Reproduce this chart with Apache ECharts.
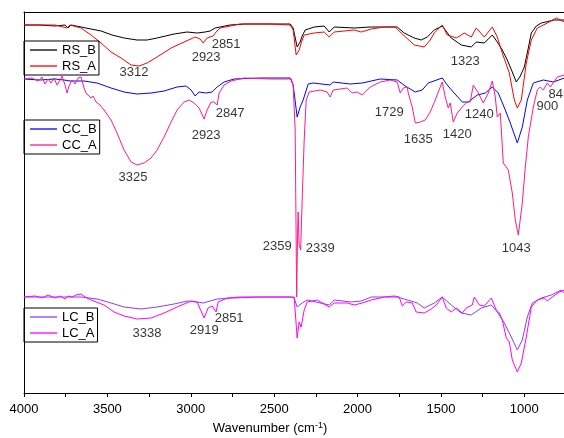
<!DOCTYPE html>
<html>
<head>
<meta charset="utf-8">
<script src="https://cdn.jsdelivr.net/npm/echarts@6/dist/echarts.min.js"></script>
<style>
    html, body { margin: 0; padding: 0; background: #fff; }
    #chart { width: 564px; height: 438px; }
</style>
</head>
<body>
<div id="chart"></div>
<script>
// FTIR spectra, [wavenumber cm-1, offset transmittance (a.u.)]
const rsB = [[4000,368],[3904,368],[3814,367],[3754,368],[3736,365],[3718,368],[3658,366],[3598,364],[3538,362],[3472,358],[3400,355],[3322,353],[3262,353],[3202,355],[3100,359],[3022,361],[2962,360],[2914,361],[2884,362],[2854,365],[2824,366],[2764,368],[2674,369],[2524,369],[2404,369],[2386,365],[2362,346],[2344,351],[2332,357],[2314,363],[2260,366],[2200,367],[2170,361],[2140,366],[2020,365],[1924,366],[1840,366],[1762,366],[1720,360],[1660,355],[1618,353],[1582,356],[1540,363],[1492,367],[1438,355],[1378,348],[1318,346],[1288,351],[1240,350],[1192,358],[1162,351],[1132,343],[1102,333],[1072,321],[1048,311],[1024,317],[1000,326],[976,345],[958,360],[928,367],[898,370],[820,373],[760,373]];
const rsA = [[4000,368],[3904,368],[3814,368],[3742,365],[3724,368],[3658,365],[3598,358],[3538,350],[3478,341],[3418,335],[3358,328],[3310,327],[3262,330],[3202,336],[3118,345],[3040,351],[2974,356],[2944,354],[2926,350],[2902,355],[2866,357],[2848,361],[2824,365],[2764,367],[2704,369],[2524,369],[2404,368],[2386,363],[2368,338],[2350,343],[2338,350],[2320,358],[2260,360],[2200,361],[2170,356],[2140,361],[2020,363],[1978,361],[1918,364],[1840,366],[1774,366],[1738,360],[1660,348],[1600,346],[1564,353],[1540,360],[1492,368],[1462,358],[1408,355],[1360,360],[1318,356],[1288,365],[1240,356],[1192,366],[1162,356],[1132,340],[1090,320],[1060,293],[1042,285],[1018,293],[988,330],[958,353],[922,365],[862,370],[808,375],[760,371]];
const ccB = [[4000,314],[3904,313],[3814,314],[3760,313],[3724,312],[3640,312],[3562,310],[3478,305],[3400,301],[3322,299],[3238,300],[3160,302],[3082,306],[3028,307],[2998,303],[2974,297],[2950,301],[2908,300],[2872,301],[2842,306],[2800,311],[2740,314],[2584,315],[2404,315],[2386,308],[2362,276],[2344,286],[2326,293],[2296,309],[2266,310],[2164,308],[2146,311],[2044,309],[1972,310],[1864,314],[1762,313],[1714,307],[1654,301],[1612,303],[1576,310],[1492,315],[1462,308],[1426,301],[1372,291],[1336,291],[1282,298],[1234,300],[1192,306],[1156,300],[1114,283],[1084,270],[1042,250],[1012,266],[982,293],[946,310],[886,313],[826,311],[760,315]];
const ccA = [[4000,314],[3952,315],[3916,312],[3892,316],[3874,309],[3856,314],[3838,310],[3820,315],[3802,308],[3784,313],[3772,317],[3754,308],[3742,300],[3730,307],[3712,313],[3694,309],[3676,315],[3658,316],[3640,305],[3628,300],[3598,295],[3586,297],[3568,291],[3544,288],[3520,283],[3478,273],[3442,260],[3400,243],[3358,231],[3322,228],[3280,230],[3238,235],[3202,243],[3160,256],[3118,271],[3082,283],[3040,291],[3010,293],[2980,290],[2950,285],[2920,274],[2902,283],[2878,291],[2860,291],[2842,288],[2830,300],[2800,308],[2758,312],[2680,315],[2524,314],[2398,314],[2386,308],[2374,263],[2365,96],[2359,163],[2356,181],[2350,148],[2341,143],[2332,193],[2320,253],[2308,293],[2290,301],[2224,303],[2182,301],[2164,296],[2146,303],[2062,305],[2032,300],[2002,301],[1972,298],[1924,306],[1864,311],[1804,313],[1762,311],[1744,300],[1726,305],[1702,306],[1696,300],[1672,286],[1654,270],[1624,271],[1594,273],[1564,281],[1534,293],[1516,301],[1492,311],[1474,296],[1456,285],[1444,290],[1426,271],[1402,280],[1372,286],[1342,291],[1324,291],[1306,308],[1276,300],[1246,290],[1216,300],[1192,312],[1174,296],[1162,276],[1144,280],[1126,230],[1096,223],[1072,200],[1054,173],[1036,158],[1012,190],[994,226],[976,256],[946,286],[922,303],[904,306],[886,303],[862,310],[844,306],[802,316],[760,318]];
const lcB = [[4000,96],[3844,96],[3658,96],[3562,94],[3478,90],[3400,86],[3298,84],[3202,86],[3100,89],[3022,92],[2962,91],[2926,90],[2884,92],[2842,94],[2746,95],[2584,96],[2404,96],[2380,95],[2362,86],[2332,90],[2302,93],[2170,88],[2140,93],[2038,91],[1978,92],[1918,96],[1840,96],[1762,96],[1720,94],[1642,90],[1600,85],[1540,90],[1492,96],[1438,88],[1378,80],[1318,78],[1258,85],[1198,88],[1162,81],[1120,70],[1078,56],[1042,43],[1012,53],[982,76],[952,90],[898,95],[838,98],[778,103],[760,100]];
const lcA = [[4000,96],[3934,97],[3892,95],[3856,98],[3814,95],[3784,97],[3754,94],[3736,97],[3712,96],[3688,98],[3658,99],[3634,96],[3598,93],[3520,88],[3460,81],[3400,77],[3322,74],[3238,75],[3160,80],[3082,86],[2998,92],[2962,91],[2920,75],[2896,85],[2872,87],[2848,81],[2836,91],[2782,95],[2704,96],[2404,96],[2380,96],[2362,55],[2350,71],[2338,66],[2320,83],[2302,91],[2242,93],[2170,86],[2140,90],[2062,90],[2020,88],[1972,90],[1918,93],[1840,96],[1780,97],[1750,96],[1732,87],[1708,91],[1672,90],[1648,81],[1600,80],[1558,84],[1528,88],[1492,96],[1468,85],[1438,81],[1408,85],[1372,80],[1348,85],[1312,88],[1300,96],[1270,88],[1240,87],[1198,95],[1192,96],[1168,83],[1150,80],[1132,73],[1108,55],[1090,51],[1072,33],[1042,21],[1018,30],[988,56],[958,86],[922,93],[880,95],[862,92],[832,96],[790,101],[760,103]];

// peak annotations: [wavenumber, y, text]
const peakLabels = [
    [3340,321,'3312'],[2908,336,'2923'],[2788,349,'2851'],[1354,332,'1323'],
    [2764,280,'2847'],[2908,258,'2923'],[3346,216,'3325'],
    [1810,281,'1729'],[1636,254,'1635'],[1402,259,'1420'],[1270,279,'1240'],
    [862,287,'900'],[790,299,'845'],
    [2482,147,'2359'],[2224,145,'2339'],[1048,145,'1043'],
    [3262,60,'3338'],[2919,63,'2919'],[2770,75,'2851']
];

const xTicks = [4000, 3500, 3000, 2500, 2000, 1500, 1000];

const FONT = 'Liberation Sans, Arial, sans-serif';

let myChart = echarts.init(document.getElementById('chart'));

const mkLine = (name, data, color) => ({
    name: name,
    type: 'line',
    data: data,
    symbol: 'none',
    smooth: false,
    lineStyle: { color: color, width: 1 },
    itemStyle: { color: color }
});

const mkLegend = (names, top) => ({
    data: names,
    left: 24,
    top: top,
    orient: 'vertical',
    icon: 'rect',
    itemWidth: 27,
    itemHeight: 1.3,
    itemGap: 2,
    itemTextGap: 6,
    padding: [2, 3, 2, 6],
    borderColor: '#000',
    borderWidth: 1,
    borderRadius: 0,
    textStyle: { fontSize: 13, lineHeight: 14, fontFamily: FONT, color: '#000' }
});

const axisFont = { fontSize: 13, fontFamily: FONT, color: '#000' };

const option = {
    animation: false,
    backgroundColor: '#fff',
    grid: {
        left: 24,
        right: -2,
        top: 12,
        bottom: 45,
        outerBoundsMode: 'none',
        containLabel: false
    },
    legend: [
        mkLegend(['RS_B', 'RS_A'], 41),
        mkLegend(['CC_B', 'CC_A'], 120),
        mkLegend(['LC_B', 'LC_A'], 308)
    ],
    xAxis: [{
        type: 'value',
        inverse: true,
        min: 750,
        max: 4000,
        interval: 250,
        name: 'Wavenumber (cm{sup|-1})',
        nameLocation: 'middle',
        nameGap: 27,
        nameTextStyle: {
            ...axisFont,
            padding: [0, 50, 0, 0],
            rich: { sup: { fontSize: 9, verticalAlign: 'top', padding: [0, 0, 6, 0], fontFamily: FONT } }
        },
        axisLine: { lineStyle: { color: '#000', width: 1 } },
        axisTick: { show: true, inside: false, length: 4, lineStyle: { color: '#000' } },
        axisLabel: {
            ...axisFont,
            margin: 10,
            showMaxLabel: true,
            formatter: v => xTicks.indexOf(v) >= 0 ? String(v) : ''
        },
        splitLine: { show: false }
    }, {
        // top frame line
        type: 'value',
        position: 'top',
        inverse: true,
        min: 750,
        max: 4000,
        axisLine: { show: true, lineStyle: { color: '#000', width: 1 } },
        axisTick: { show: false },
        axisLabel: { show: false },
        splitLine: { show: false }
    }],
    yAxis: {
        type: 'value',
        min: 0,
        max: 381,
        axisLine: { show: true, lineStyle: { color: '#000', width: 1 } },
        axisTick: { show: false },
        axisLabel: { show: false },
        splitLine: { show: false }
    },
    series: [
        mkLine('RS_B', rsB, '#000000'),
        mkLine('RS_A', rsA, '#ff0000'),
        mkLine('CC_B', ccB, '#0000ff'),
        mkLine('CC_A', ccA, '#ff1a8c'),
        mkLine('LC_B', lcB, '#8c3cff'),
        mkLine('LC_A', lcA, '#ff00ff'),
        {
            name: 'peaks',
            type: 'scatter',
            silent: true,
            symbolSize: 0,
            data: peakLabels,
            label: {
                show: true,
                position: 'inside',
                formatter: p => p.data[2],
                ...axisFont
            },
            z: 5
        }
    ]
};

option && myChart.setOption(option);
</script>
</body>
</html>
